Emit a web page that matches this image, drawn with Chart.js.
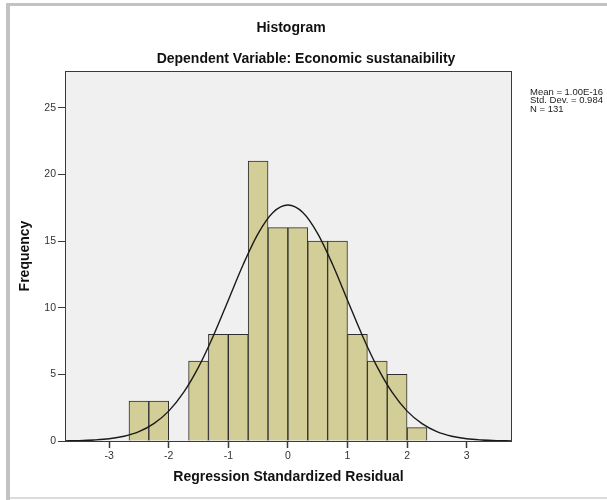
<!DOCTYPE html>
<html>
<head>
<meta charset="utf-8">
<script src="https://cdn.jsdelivr.net/npm/chart.js@4/dist/chart.umd.min.js"></script>
<style>
  html, body { margin: 0; padding: 0; background: #ffffff; }
  #wrap { width: 607px; height: 500px; }
</style>
</head>
<body>
<div id="wrap"><canvas id="hist" width="607" height="500"></canvas></div>
<script>
// bin centres (bin width = 1/3) and counts
const binCenters = [-2.5, -2.167, -1.833, -1.5, -1.167, -0.833, -0.5, -0.167, 0.167, 0.5, 0.833, 1.167, 1.5, 1.833, 2.167];
const frequencies = [3, 3, 0, 6, 8, 8, 21, 16, 16, 15, 15, 8, 6, 5, 1];

// normal curve
const curveX = [-3.75, -3.5, -3.25, -3, -2.75, -2.5, -2.25, -2, -1.75, -1.5, -1.25, -1, -0.75, -0.5, -0.25, 0,
                0.25, 0.5, 0.75, 1, 1.25, 1.5, 1.75, 2, 2.25, 2.5, 2.75, 3, 3.25, 3.5, 3.75];
const curveY = [0.01, 0.03, 0.08, 0.17, 0.36, 0.7, 1.3, 2.24, 3.64, 5.54, 7.9, 10.56, 13.24, 15.56, 17.14, 17.7,
                17.14, 15.56, 13.24, 10.56, 7.9, 5.54, 3.64, 2.24, 1.3, 0.7, 0.36, 0.17, 0.08, 0.03, 0.01];

const xTickValues = [-3, -2, -1, 0, 1, 2, 3];
const yTickValues = [0, 5, 10, 15, 20, 25];

const statLines = ["Mean = 1.00E-16", "Std. Dev. = 0.984", "N = 131"];

const FONT = "'Liberation Sans', Arial, sans-serif";

// 🔹 frame, plot background, border and texts
const spssPlugin = {
  id: "spss",
  beforeDraw(chart) {
    const ctx = chart.ctx;
    const a = chart.chartArea;
    ctx.save();
    // outer frame
    ctx.fillStyle = "#c3c3c3";
    ctx.fillRect(6, 3, 601, 3);
    ctx.fillRect(6, 3, 4, 497);
    ctx.fillStyle = "#dcdcdc";
    ctx.fillRect(10, 497, 597, 2);
    // plot background
    ctx.fillStyle = "#f0f0f0";
    ctx.fillRect(a.left, a.top, a.right - a.left, a.bottom - a.top);
    ctx.restore();
  },
  afterDraw(chart) {
    const ctx = chart.ctx;
    const a = chart.chartArea;
    ctx.save();
    ctx.strokeStyle = "#3a3a3a";
    ctx.lineWidth = 1;
    ctx.strokeRect(a.left + 0.5, a.top + 0.5, a.right - a.left - 1, a.bottom - a.top);

    ctx.fillStyle = "#111111";
    ctx.textAlign = "center";
    ctx.textBaseline = "middle";
    ctx.font = "bold 14px " + FONT;
    ctx.fillText("Histogram", 291, 28);
    ctx.fillText("Dependent Variable: Economic sustanaibility", 306, 59);

    ctx.textAlign = "left";
    ctx.font = "9.5px " + FONT;
    ctx.fillStyle = "#222222";
    statLines.forEach((t, i) => ctx.fillText(t, 530, 92 + i * 8.5));
    ctx.restore();
  }
};

new Chart(document.getElementById("hist"), {
  type: "bar",
  data: {
    datasets: [
      {
        type: "line",
        label: "Normal",
        data: curveX.map((x, i) => ({ x: x, y: curveY[i] })),
        borderColor: "#1a1a1a",
        borderWidth: 1.4,
        pointRadius: 0,
        fill: false,
        cubicInterpolationMode: "monotone",
        order: 0
      },
      {
        label: "Frequency",
        data: binCenters.map((x, i) => ({ x: x, y: frequencies[i] })),
        backgroundColor: "#d3ce97",
        borderColor: "#2e2e2e",
        borderWidth: 1,
        barPercentage: 1,
        categoryPercentage: 1,
        order: 1
      }
    ]
  },
  options: {
    responsive: false,
    animation: false,
    layout: { padding: { left: 0, top: 71, right: 95, bottom: 0 } },
    plugins: {
      legend: { display: false },
      title: { display: false },
      tooltip: { enabled: false }
    },
    scales: {
      x: {
        type: "linear",
        min: -3.74,
        max: 3.76,
        offset: false,
        afterFit: s => { s.height = 59; },
        afterBuildTicks: s => { s.ticks = xTickValues.map(v => ({ value: v })); },
        grid: { offset: false, drawOnChartArea: false, drawTicks: true, tickLength: 7, tickColor: "#3a3a3a", tickWidth: 1.5 },
        border: { display: false },
        ticks: { padding: 2, color: "#333333", font: { family: FONT, size: 10.5 }, maxRotation: 0 },
        title: {
          display: true,
          text: "Regression Standardized Residual",
          color: "#111111",
          font: { family: FONT, size: 14, weight: "bold" },
          padding: { top: 0, bottom: 14 }
        }
      },
      y: {
        min: 0,
        max: 27.75,
        afterFit: s => { s.width = 65; },
        afterBuildTicks: s => { s.ticks = yTickValues.map(v => ({ value: v })); },
        grid: { drawOnChartArea: false, drawTicks: true, tickLength: 7, tickColor: "#3a3a3a" },
        border: { display: false },
        ticks: { padding: 2, color: "#333333", font: { family: FONT, size: 10.5 } },
        title: {
          display: true,
          text: "Frequency",
          color: "#111111",
          font: { family: FONT, size: 14, weight: "bold" },
          padding: { top: 17, bottom: 0 }
        }
      }
    }
  },
  plugins: [spssPlugin]
});
</script>
</body>
</html>
